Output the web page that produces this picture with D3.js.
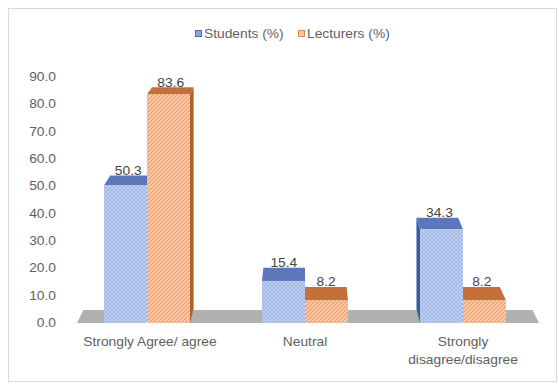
<!DOCTYPE html>
<html>
<head>
<meta charset="utf-8">
<script src="https://cdn.jsdelivr.net/npm/d3@7"></script>
<style>
  html, body { margin: 0; padding: 0; background: #fff; }
  svg { display: block; font-family: "Liberation Sans", Arial, sans-serif; }
</style>
</head>
<body>
<svg id="chart" width="559" height="384"></svg>
<script>
// Survey responses, percentage of each group
const categories = ["Strongly Agree/ agree", "Neutral", "Strongly disagree/disagree"];
const categoryLines = [["Strongly Agree/ agree"], ["Neutral"], ["Strongly", "disagree/disagree"]];
const seriesNames = ["Students (%)", "Lecturers (%)"];
const students = [50.3, 15.4, 34.3];
const lecturers = [83.6, 8.2, 8.2];
const yTicks = [0, 10, 20, 30, 40, 50, 60, 70, 80, 90];

const svg = d3.select("#chart");
const textColor = "#5f5f5f";
const stretch = 1.15; // text is set slightly wide

// positions a text element at (px, py) with horizontal stretch
const place = (sel, px, py) => sel.attr("transform", `translate(${px},${py}) scale(${stretch},1)`);

// chart frame
svg.append("rect").attr("x", 8.5).attr("y", 8.5).attr("width", 548).attr("height", 373)
  .attr("fill", "#fff").attr("stroke", "#d9d9d9");

const y = d3.scaleLinear().domain([0, 90]).range([323, 77]);
const x = d3.scaleBand().domain(categories).range([68, 542]);
const barW = 43;
const xs = d3.scaleBand().domain(seriesNames)
  .range([x.bandwidth() / 2 - barW, x.bandwidth() / 2 + barW]);

// simple perspective: back faces shrink toward a vanishing point above the chart
const vp = [306, -140];
const depthK = 0.031;
const back = (px, py, k = depthK) => [px + (vp[0] - px) * k, py + (vp[1] - py) * k];

const defs = svg.append("defs");
// students: fine trellis texture
const pb = defs.append("pattern").attr("id", "patStudents").attr("patternUnits", "userSpaceOnUse")
  .attr("width", 4).attr("height", 4);
pb.append("rect").attr("width", 4).attr("height", 4).attr("fill", "#a3b8e6");
pb.append("path").attr("d", "M0,0L4,4M4,0L0,4").attr("stroke", "#cbd8f3").attr("stroke-width", 0.7);
// lecturers: upward diagonal stripes
const po = defs.append("pattern").attr("id", "patLecturers").attr("patternUnits", "userSpaceOnUse")
  .attr("width", 4).attr("height", 4);
po.append("rect").attr("width", 4).attr("height", 4).attr("fill", "#f9cdb0");
po.append("path").attr("d", "M-1,1L1,-1M0,4L4,0M3,5L5,3").attr("stroke", "#ef9b62").attr("stroke-width", 1.1);

const styles = {
  "Students (%)": { front: "url(#patStudents)", top: "#5c78bd", side: "#3b5aa0", key: "#8aa6dc", keyStroke: "#4a6db5" },
  "Lecturers (%)": { front: "url(#patLecturers)", top: "#c3703a", side: "#ad602a", key: "#f6c7a3", keyStroke: "#e08a4e" }
};

// floor slab
const floorL = 77, floorR = 539, floorY = 323, floorK = 0.028;
const fbl = back(floorL, floorY, floorK), fbr = back(floorR, floorY, floorK);
svg.append("path")
  .attr("d", `M${floorL},${floorY}L${floorR},${floorY}L${fbr[0]},${fbr[1]}L${fbl[0]},${fbl[1]}Z`)
  .attr("fill", "#b0b0b0");

// y tick labels
svg.append("g").selectAll("text").data(yTicks).join("text")
  .call(sel => sel.each(function (d) { place(d3.select(this), 56, y(d) + 4); }))
  .attr("text-anchor", "end").attr("font-size", 12).attr("fill", textColor)
  .text(d => d.toFixed(1));

// bars
const bars = [];
categories.forEach((c, i) => {
  [[seriesNames[0], students[i]], [seriesNames[1], lecturers[i]]].forEach(([s, v]) => {
    const x0 = x(c) + xs(s), x1 = x0 + barW;
    bars.push({ s, v, x0, x1, yTop: y(v), yBase: y(0) });
  });
});
// draw the bars farthest from the vanishing point first
bars.sort((a, b) => Math.abs((b.x0 + b.x1) / 2 - vp[0]) - Math.abs((a.x0 + a.x1) / 2 - vp[0]));

const gBars = svg.append("g");
bars.forEach(b => {
  const st = styles[b.s];
  const g = gBars.append("g");
  const btl = back(b.x0, b.yTop), btr = back(b.x1, b.yTop);
  const bbl = back(b.x0, b.yBase), bbr = back(b.x1, b.yBase);
  if (b.x1 < vp[0]) {
    g.append("path").attr("d", `M${b.x1},${b.yTop}L${btr[0]},${btr[1]}L${bbr[0]},${bbr[1]}L${b.x1},${b.yBase}Z`)
      .attr("fill", st.side);
  } else if (b.x0 > vp[0]) {
    g.append("path").attr("d", `M${b.x0},${b.yTop}L${btl[0]},${btl[1]}L${bbl[0]},${bbl[1]}L${b.x0},${b.yBase}Z`)
      .attr("fill", st.side);
  }
  g.append("path").attr("d", `M${b.x0},${b.yTop}L${b.x1},${b.yTop}L${btr[0]},${btr[1]}L${btl[0]},${btl[1]}Z`)
    .attr("fill", st.top);
  g.append("rect").attr("x", b.x0).attr("y", b.yTop).attr("width", b.x1 - b.x0).attr("height", b.yBase - b.yTop)
    .attr("fill", st.front);
  b.labelX = (b.x0 + b.x1 + btl[0] + btr[0]) / 4;
  b.labelY = btl[1] - 0.5;
});

// value labels
svg.append("g").selectAll("text").data(bars).join("text")
  .call(sel => sel.each(function (d) { place(d3.select(this), d.labelX, d.labelY); }))
  .attr("text-anchor", "middle").attr("font-size", 12).attr("fill", "#444")
  .text(d => d.v.toFixed(1));

// category labels
const gCat = svg.append("g");
categories.forEach((c, i) => {
  categoryLines[i].forEach((line, j) => {
    gCat.append("text").attr("text-anchor", "middle").attr("font-size", 12).attr("fill", textColor)
      .call(place, x(c) + x.bandwidth() / 2 + (i === 0 ? 3 : 0), 346 + j * 18)
      .text(line);
  });
});

// legend
const legendX = [195, 298];
const gLeg = svg.append("g");
seriesNames.forEach((s, i) => {
  gLeg.append("rect").attr("x", legendX[i] + 0.5).attr("y", 30.5).attr("width", 6).attr("height", 6)
    .attr("fill", styles[s].key).attr("stroke", styles[s].keyStroke);
  gLeg.append("text").attr("font-size", 12).attr("fill", textColor)
    .call(place, legendX[i] + 9, 38).text(s);
});
</script>
</body>
</html>
